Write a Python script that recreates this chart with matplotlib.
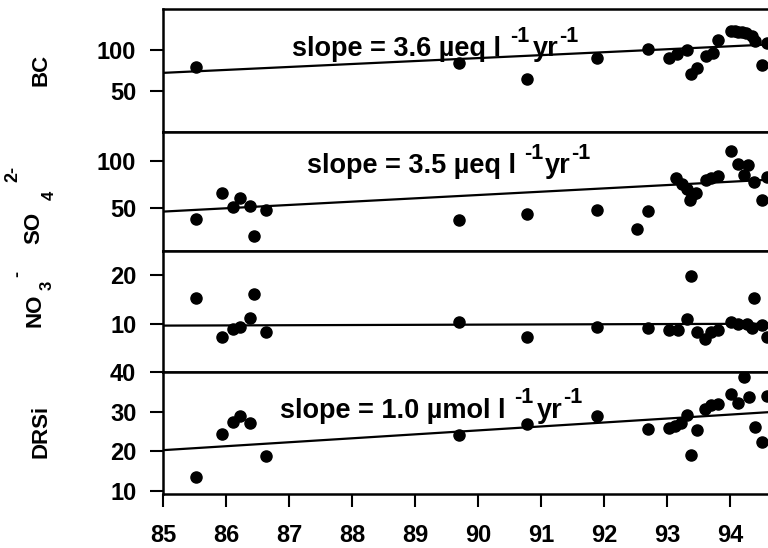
import matplotlib
matplotlib.use("Agg")
import matplotlib.pyplot as plt
import numpy as np

plt.rcParams['font.family'] = ['Liberation Sans', 'DejaVu Sans']
plt.rcParams['font.weight'] = 'bold'

# data (x = year, 19xx)
bc_year = [85.52, 89.70, 90.78, 91.88, 92.70, 93.03, 93.15, 93.32, 93.37, 93.48,
           93.61, 93.72, 93.80, 94.01, 94.07, 94.13, 94.19, 94.25, 94.34, 94.39,
           94.51, 94.58]
bc_val = [80, 85, 65.5, 91, 102, 90.5, 96, 100, 71.7, 78.8,
          93.4, 96.7, 112, 123.8, 123, 122.5, 122, 121.7, 118, 111,
          82, 109]

so4_year = [85.52, 85.93, 86.10, 86.22, 86.37, 86.44, 86.63, 89.70, 90.78, 91.88,
            92.52, 92.69, 93.14, 93.23, 93.32, 93.36, 93.39, 93.46, 93.61, 93.70,
            93.81, 94.01, 94.13, 94.22, 94.29, 94.37, 94.51, 94.58]
so4_val = [38, 66, 51, 60.5, 52.5, 21, 48, 37, 44, 48,
           27.5, 47, 81.4, 75.4, 69.8, 58.5, 63.7, 66, 79.6, 81.4,
           84, 110.6, 97, 85, 95.5, 77.8, 59, 83]

no3_year = [85.52, 85.93, 86.10, 86.22, 86.37, 86.44, 86.63, 89.70, 90.78, 91.88,
            92.70, 93.03, 93.17, 93.32, 93.37, 93.48, 93.60, 93.70, 93.81, 94.01,
            94.13, 94.26, 94.35, 94.38, 94.51, 94.59]
no3_val = [15.2, 7.2, 8.9, 9.25, 11.1, 16.1, 8.2, 10.4, 7.2, 9.4,
           9.05, 8.7, 8.7, 10.9, 19.8, 8.35, 6.8, 8.35, 8.7, 10.4,
           9.9, 9.9, 9.05, 15.2, 9.7, 7.2]

drsi_year = [85.52, 85.93, 86.10, 86.22, 86.37, 86.63, 89.70, 90.78, 91.88, 92.70,
             93.03, 93.12, 93.22, 93.32, 93.37, 93.48, 93.60, 93.69, 93.81, 94.01,
             94.13, 94.22, 94.30, 94.39, 94.51, 94.59]
drsi_val = [13.4, 24.3, 27.4, 28.9, 27.2, 18.8, 24.2, 26.8, 28.9, 25.7,
            25.9, 26.5, 27.2, 29.1, 19.1, 25.3, 30.8, 31.6, 32.1, 34.6,
            32.3, 38.9, 33.7, 26.2, 22.3, 34.0]

# trend lines: value at 1985 and slope per year
fit_start = [72.5, 46.3, 9.6, 20.3]
fit_slope = [3.6, 3.5, 0.04, 1.0]

slope_head = ['slope = 3.6 µeq l', 'slope = 3.5 µeq l', None, 'slope = 1.0 µmol l']
slope_gap = [3, 1, None, 3]
slope_pos = [(87.05, 93), (87.28, 86.7), None, (86.85, 28.5)]
ylims = [(0, 150), (5, 130), (0, 25), (9.2, 40)]
yticks = [[50, 100], [50, 100], [10, 20], [10, 20, 30, 40]]
xticks = [85, 86, 87, 88, 89, 90, 91, 92, 93, 94]

# panel name pieces: (text, x px, y px, size)
name_parts = [('BC', 40.5, 70, 16),
              ('SO', 33.5, 227.5, 16), ('4', 49, 195, 12), ('2-', 12.5, 174, 13),
              ('NO', 34.5, 310.5, 16), ('3', 47.5, 285, 12), ('-', 17.5, 273.5, 13),
              ('DRSi', 40.5, 431, 16)]


def slope_label(ax, x, y, head, gap):
    t = ax.text(x, y, head, fontsize=19.5, fontweight='bold', ha='left', va='baseline')
    s1 = ax.annotate('-1', xy=(1, 0), xycoords=t, xytext=(6, 11), textcoords='offset points',
                     fontsize=15.5, fontweight='bold', ha='left', va='bottom')
    t2 = ax.annotate('yr', xy=(1, 0), xycoords=s1, xytext=(gap, -11), textcoords='offset points',
                     fontsize=19.5, fontweight='bold', ha='left', va='bottom')
    ax.annotate('-1', xy=(1, 0), xycoords=t2, xytext=(0, 11), textcoords='offset points',
                fontsize=15.5, fontweight='bold', ha='left', va='bottom')


def make_panel(fig, rect, years, vals, i):
    ax = fig.add_axes(rect)
    ax.plot(years, vals, 'o', color='black', markersize=8)
    xs = np.array([85.0, 94.6])
    ax.plot(xs, fit_start[i] + fit_slope[i] * (xs - 85.0), '-', color='black', lw=1.6)
    ax.set_xlim(85, 94.6)
    ax.set_ylim(*ylims[i])
    ax.set_yticks(yticks[i])
    ax.tick_params(axis='y', direction='out', length=9.4, width=1.5, labelsize=17, pad=10)
    ax.spines['right'].set_visible(False)
    for s in ['left', 'top', 'bottom']:
        ax.spines[s].set_linewidth(1.8)
    if slope_head[i] is not None:
        slope_label(ax, slope_pos[i][0], slope_pos[i][1], slope_head[i], slope_gap[i])
    return ax


fig = plt.figure(figsize=(7.68, 5.48), dpi=100)

tops = [9.3, 132.3, 250.7, 372.3]
bottoms = [132.3, 250.7, 372.3, 494.0]
data = [(bc_year, bc_val), (so4_year, so4_val), (no3_year, no3_val), (drsi_year, drsi_val)]
left = 163.3 / 768
for i in range(4):
    b = 1 - bottoms[i] / 548
    h = (bottoms[i] - tops[i]) / 548
    ax = make_panel(fig, [left, b, 1 - left, h], data[i][0], data[i][1], i)
    if i < 3:
        ax.set_xticks([])
    else:
        ax.set_xticks(xticks)
        ax.tick_params(axis='x', direction='out', length=9.4, width=1.5, labelsize=17, pad=12)

for txt, px, py, size in name_parts:
    fig.text(px / 768, 1 - py / 548, txt, rotation=90,
             fontsize=size, fontweight='bold', ha='center', va='center')

fig.savefig('out.png', dpi=100)
